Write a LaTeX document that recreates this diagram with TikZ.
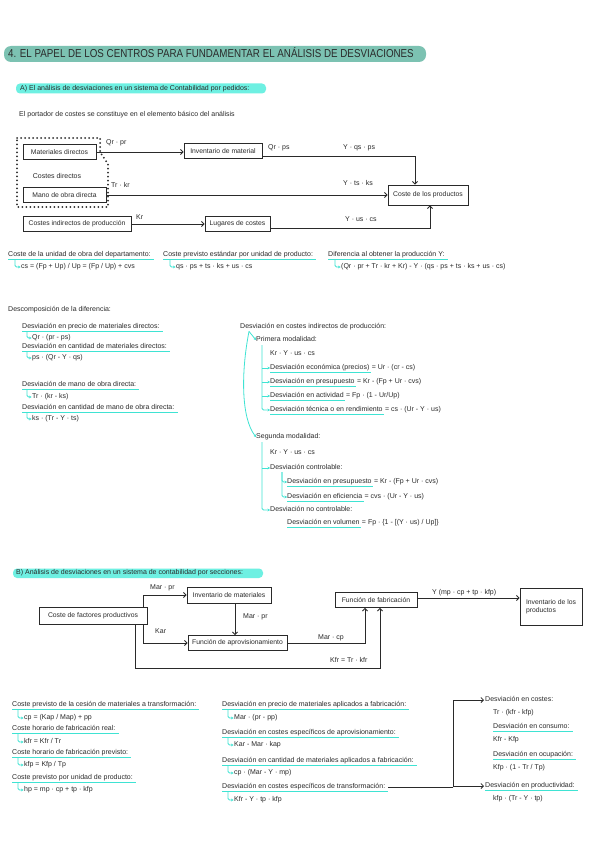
\documentclass[tikz,border=0pt]{standalone}
\usepackage{fontspec}
\setmainfont{Liberation Sans}
\newfontfamily\titlefont{Liberation Sans}[FakeStretch=0.85]
\usetikzlibrary{arrows.meta}
\definecolor{ink}{HTML}{2A2A2A}
\definecolor{teal1}{HTML}{7CC2B2}
\definecolor{hl}{HTML}{6EF0E2}
\definecolor{cy}{HTML}{3FE3D3}
\tikzset{
 t/.style={anchor=west, inner sep=0pt, text=ink, text height=5pt, text depth=1.5pt, font=\fontsize{7}{8}\selectfont},
 box/.style={draw=ink, line width=0.9pt, inner sep=2pt, minimum height=15pt, text=ink, font=\fontsize{6.8}{8}\selectfont, align=center},
 arr/.style={draw=ink, line width=0.8pt, -{Straight Barb[length=2.5pt,width=5pt]}},
 ln/.style={draw=ink, line width=0.8pt},
 ul/.style={draw=cy, line width=0.9pt},
 hk/.style={draw=cy, line width=0.8pt, rounded corners=1.5pt, -{Stealth[length=2.5pt,width=2.8pt]}},
 dots/.style={draw=ink, line width=2pt, dash pattern=on 0pt off 4pt, line cap=round},
}
\newcommand{\ULn}[2][1]{\draw[ul] ([yshift=-1pt]#2.south west) -- ([xshift=#1pt,yshift=-1pt]#2.south east);}
\newcommand{\LabU}[4]{\node[t] (#1) at (#2,#3) {#4}; \ULn[3]{#1}}
\newcommand{\HookF}[6]{\node[t] (#1) at (#4,#5) {#6};
 \draw[hk] ([xshift=#3pt,yshift=-1pt]#2.south west) |- ([xshift=-0.5pt]#1.west);}
\begin{document}
\begin{tikzpicture}[x=1pt,y=-1pt]
\useasboundingbox (0,0) rectangle (599,848);
\fill[white] (0,0) rectangle (599,848);

% title
\fill[teal1, rounded corners=7pt] (4,46) rectangle (426,62);
\node[t, text height=8pt, text depth=0pt, font=\titlefont\fontsize{11.5}{13}\selectfont] (title) at (8,54) {4. EL PAPEL DE LOS CENTROS PARA FUNDAMENTAR EL ANÁLISIS DE DESVIACIONES};

% A header
\fill[hl, rounded corners=4pt] (16,83.5) rectangle (266,93.5);
\node[t] (ha) at (20,88.5) {A) El análisis de desviaciones en un sistema de Contabilidad por pedidos:};
\node[t] (intro) at (19,115) {El portador de costes se constituye en el elemento básico del análisis};

% diagram A
\node[box, minimum width=73pt] (mat) at (59.5,152) {Materiales directos};
\node[box, minimum width=83pt] (mano) at (64.5,195) {Mano de obra directa};
\node[box, minimum width=108pt] (cind) at (77,224) {Costes indirectos de producción};
\node[box, minimum width=78pt] (inv) at (223,151) {Inventario de material};
\node[box, minimum width=65pt] (lug) at (237.5,224) {Lugares de costes};
\node[box, minimum width=80pt, minimum height=20pt] (cprod) at (428,195) {Coste de los productos};
\node[t, anchor=center] (cdir) at (57,177) {Costes directos};
\draw[dots] (17,138) -- (100,138) -- (100,152) -- (108,164) -- (108,207) -- (17,207) -- cycle;

\draw[arr] (mat.east) -- (mat.east -| inv.west);
\draw[arr] ([yshift=-5pt]inv.east) -| ([xshift=-13pt]cprod.north);
\draw[arr] (mano.east) -- (mano.east -| cprod.west);
\draw[arr] (cind.east) -- (lug.west);
\draw[arr] ([yshift=-4pt]lug.east) -| ([xshift=2pt]cprod.south);
\node[t] (l1) at (106,143) {Qr · pr};
\node[t] (l2) at (268,148) {Qr · ps};
\node[t] (l3) at (343,148) {Y · qs · ps};
\node[t] (l4) at (111,186) {Tr · kr};
\node[t] (l5) at (343,184) {Y · ts · ks};
\node[t] (l6) at (136,218) {Kr};
\node[t] (l7) at (345,220) {Y · us · cs};

% formula row
\LabU{f1}{8}{255}{Coste de la unidad de obra del departamento:}
\HookF{f1x}{f1}{7}{21}{267}{cs = (Fp + Up) / Up = (Fp / Up) + cvs}
\LabU{f2}{163}{255}{Coste previsto estándar por unidad de producto:}
\HookF{f2x}{f2}{7}{176}{267}{qs · ps + ts · ks + us · cs}
\LabU{f3}{328}{255}{Diferencia al obtener la producción Y:}
\HookF{f3x}{f3}{7}{341}{267}{(Qr · pr + Tr · kr + Kr) - Y · (qs · ps + ts · ks + us · cs)}

% decomposition left
\node[t] (dd) at (8,310) {Descomposición de la diferencia:};
\LabU{d1}{22}{327}{Desviación en precio de materiales directos:}
\HookF{d1x}{d1}{5}{32}{338}{Qr · (pr - ps)}
\LabU{d2}{22}{347}{Desviación en cantidad de materiales directos:}
\HookF{d2x}{d2}{5}{32}{358}{ps · (Qr - Y · qs)}
\LabU{d3}{22}{385}{Desviación de mano de obra directa:}
\HookF{d3x}{d3}{5}{32}{397}{Tr · (kr - ks)}
\LabU{d4}{22}{408}{Desviación en cantidad de mano de obra directa:}
\HookF{d4x}{d4}{5}{32}{419}{ks · (Tr - Y · ts)}

% decomposition right
\node[t] (ci) at (240,327) {Desviación en costes indirectos de producción:};
\node[t] (p1) at (256,340) {Primera modalidad:};
\node[t] (p1a) at (270,354) {Kr · Y · us · cs};
\node[t] (e1) at (270,368) {Desviación económica (precios)}; \ULn{e1}
\node[t] (e1b) at ([xshift=2pt]e1.east) {= Ur · (cr - cs)};
\node[t] (e2) at (270,382) {Desviación en presupuesto}; \ULn{e2}
\node[t] (e2b) at ([xshift=2pt]e2.east) {= Kr - (Fp + Ur · cvs)};
\node[t] (e3) at (270,396) {Desviación en actividad}; \ULn{e3}
\node[t] (e3b) at ([xshift=2pt]e3.east) {= Fp · (1 - Ur/Up)};
\node[t] (e4) at (270,410) {Desviación técnica o en rendimiento}; \ULn{e4}
\node[t] (e4b) at ([xshift=2pt]e4.east) {= cs · (Ur - Y · us)};
\coordinate (v1) at (262,345);
\draw[hk] (v1 |- e1.west) -- (e1.west);
\draw[hk] (v1 |- e2.west) -- (e2.west);
\draw[hk] (v1 |- e3.west) -- (e3.west);
\draw[hk] (v1) |- (e4.west);

\node[t] (s1) at (256,437) {Segunda modalidad:};
\node[t] (s1a) at (270,453) {Kr · Y · us · cs};
\node[t] (sc) at (270,468) {Desviación controlable:};
\node[t] (sp) at (287,482) {Desviación en presupuesto}; \ULn{sp}
\node[t] (spb) at ([xshift=2pt]sp.east) {= Kr - (Fp + Ur · cvs)};
\node[t] (se) at (287,497) {Desviación en eficiencia}; \ULn{se}
\node[t] (seb) at ([xshift=2pt]se.east) {= cvs · (Ur - Y · us)};
\node[t] (snc) at (270,510) {Desviación no controlable:};
\node[t] (sv) at (287,523) {Desviación en volumen}; \ULn{sv}
\node[t] (svb) at ([xshift=2pt]sv.east) {= Fp · \{1 - [(Y · us) / Up]\}};
\coordinate (v2) at (262,442);
\draw[hk] (v2 |- sc.west) -- (sc.west);
\draw[hk] (v2) |- (snc.west);
\coordinate (v3) at (282,472);
\draw[hk] (v3) |- (sp.west);
\draw[hk] (v3) |- (se.west);
\coordinate (cs0) at ([xshift=9pt,yshift=-1pt]ci.south west);
\draw[hk] (cs0) -- (p1.west);
\draw[hk] (cs0) .. controls (241,372) and (241,418) .. (s1.west);

% B header
\fill[hl, rounded corners=4pt] (13,568.5) rectangle (263,578);
\node[t] (hb) at (16,573) {B) Análisis de desviaciones en un sistema de contabilidad por secciones:};

\node[box, minimum width=108pt, minimum height=17pt] (cfp) at (93,615.5) {Coste de factores productivos};
\node[box, minimum width=84pt, minimum height=16pt] (invm) at (229,595) {Inventario de materiales};
\node[box, minimum width=99pt, minimum height=15pt] (fap) at (237.5,643) {Función de aprovisionamiento};
\node[box, minimum width=82pt, minimum height=15pt] (ffab) at (376,600) {Función de fabricación};
\node[box, minimum width=62pt, minimum height=37pt, align=left] (invp) at (551,606.5) {Inventario de los\\productos};
\draw[arr] ([xshift=50pt]cfp.north) |- (invm.west);
\draw[arr] ([xshift=50pt]cfp.south) |- (fap.west);
\draw[arr] ([xshift=6pt]invm.south) -- ([xshift=6pt]invm.south |- fap.north);
\coordinate (k1) at (380,668);
\draw[arr] ([xshift=42pt]cfp.south) |- (k1) -- (k1 |- ffab.south);
\draw[arr] (fap.east) -| ([xshift=-11pt]ffab.south);
\draw[arr] ([yshift=2pt]ffab.east) -- ([yshift=2pt]ffab.east -| invp.west);
\node[t] (b1l) at (150,588) {Mar · pr};
\node[t] (b2l) at (155,632) {Kar};
\node[t] (b3l) at (243,617) {Mar · pr};
\node[t] (b4l) at (318,638) {Mar · cp};
\node[t] (b5l) at (330,661) {Kfr = Tr · kfr};
\node[t] (b6l) at (432,593) {Y (mp · cp + tp · kfp)};

% bottom left
\LabU{b1}{12}{705}{Coste previsto de la cesión de materiales a transformación:}
\HookF{b1x}{b1}{6}{24}{718}{cp = (Kap / Map) + pp}
\LabU{b2}{12}{729}{Coste horario de fabricación real:}
\HookF{b2x}{b2}{6}{24}{742}{kfr = Kfr / Tr}
\LabU{b3}{12}{753}{Coste horario de fabricación previsto:}
\HookF{b3x}{b3}{6}{24}{765}{kfp = Kfp / Tp}
\LabU{b4}{12}{778}{Coste previsto por unidad de producto:}
\HookF{b4x}{b4}{6}{24}{790}{hp = mp · cp + tp · kfp}

% bottom middle
\LabU{m1}{222}{705}{Desviación en precio de materiales aplicados a fabricación:}
\HookF{m1x}{m1}{6}{234}{718}{Mar · (pr - pp)}
\LabU{m2}{222}{733}{Desviación en costes específicos de aprovisionamiento:}
\HookF{m2x}{m2}{6}{234}{745}{Kar - Mar · kap}
\LabU{m3}{222}{761}{Desviación en cantidad de materiales aplicados a fabricación:}
\HookF{m3x}{m3}{6}{234}{773}{cp · (Mar - Y · mp)}
\LabU{m4}{222}{787}{Desviación en costes específicos de transformación:}
\HookF{m4x}{m4}{6}{234}{800}{Kfr - Y · tp · kfp}

% bottom right
\node[t] (r1) at (485,700) {Desviación en costes:};
\node[t] (r1a) at (493,713) {Tr · (kfr - kfp)};
\node[t] (r2) at (493,727) {Desviación en consumo:}; \ULn[3]{r2}
\node[t] (r2a) at (493,740) {Kfr - Kfp};
\node[t] (r3) at (493,755) {Desviación en ocupación:}; \ULn[3]{r3}
\node[t] (r3a) at (493,768) {Kfp · (1 - Tr / Tp)};
\node[t] (r4) at (485,786) {Desviación en productividad:}; \ULn[3]{r4}
\node[t] (r4a) at (493,799) {kfp · (Tr - Y · tp)};
\coordinate (jn) at (453,787);
\draw[ln] ([xshift=3pt]m4.east) -- (jn);
\draw[arr] (jn) |- ([xshift=-1pt]r1.west);
\draw[arr] (jn) |- ([xshift=-1pt]r4.west);
\end{tikzpicture}
\end{document}
